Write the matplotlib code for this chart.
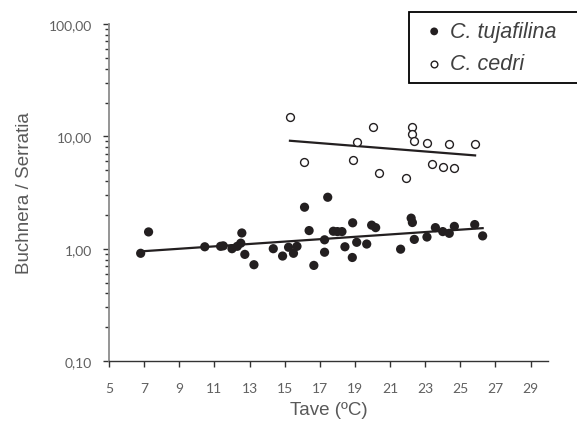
import numpy as np
import matplotlib.pyplot as plt
from matplotlib.ticker import FuncFormatter, LogLocator, NullFormatter

# C. tujafilina (filled)
tuja_t = [6.8, 7.25, 10.45, 11.35, 11.5, 12.0, 12.3, 12.5, 12.56, 12.73,
          13.25, 14.35, 14.88, 15.22, 15.5, 15.7, 16.13, 16.39, 16.66, 17.27,
          17.27, 17.45, 17.77, 18.0, 18.26, 18.43, 18.87, 18.85, 19.1, 19.67,
          19.95, 20.18, 21.6, 22.2, 22.27, 22.38, 23.1, 23.58, 24.0, 24.37,
          24.66, 25.82, 26.27]
tuja_r = [0.91, 1.41, 1.04, 1.05, 1.06, 1.00, 1.05, 1.12, 1.38, 0.89,
          0.72, 1.00, 0.86, 1.03, 0.91, 1.05, 2.34, 1.45, 0.71, 1.20,
          0.93, 2.87, 1.43, 1.42, 1.42, 1.04, 1.70, 0.835, 1.14, 1.10,
          1.62, 1.54, 0.99, 1.87, 1.71, 1.21, 1.27, 1.54, 1.42, 1.37,
          1.58, 1.64, 1.30]

# C. cedri (open)
cedri_t = [15.3, 16.11, 18.87, 19.1, 20.05, 20.38, 21.9, 22.27, 22.23, 22.38,
           23.09, 23.4, 24.01, 24.37, 24.66, 25.84]
cedri_r = [15.0, 5.96, 6.13, 8.92, 12.1, 4.69, 4.24, 12.1, 10.6, 9.03,
           8.67, 5.73, 5.38, 8.56, 5.2, 8.6]

xticks = list(range(5, 30, 2))

plt.rcParams['font.family'] = ['Liberation Sans', 'DejaVu Sans']

fig = plt.figure(figsize=(5.77, 4.31), dpi=100)
ax = fig.add_axes([0.189, 0.160, 0.761, 0.782])

# exponential trendlines (fit on log scale)
for t, r in [(tuja_t, tuja_r), (cedri_t, cedri_r)]:
    t = np.array(t)
    k, b = np.polyfit(t, np.log10(r), 1)
    xs = np.array([t.min(), t.max()])
    ax.plot(xs, 10 ** (k * xs + b), color='#231f20', lw=1.6, zorder=2)

ax.scatter(tuja_t, tuja_r, s=44, color='#231f20', edgecolor='none',
           zorder=3, label='C. tujafilina')
ax.scatter(cedri_t, cedri_r, s=32, facecolor='white', edgecolor='#231f20',
           linewidth=1.0, zorder=3, label='C. cedri')

ax.set_yscale('log')
ax.set_ylim(0.1, 100)
ax.set_xlim(5, 30)
ax.set_xticks(xticks)
ax.yaxis.set_major_formatter(FuncFormatter(lambda v, p: f'{v:.2f}'.replace('.', ',')))
ax.yaxis.set_minor_locator(LogLocator(base=10, subs=np.arange(2, 10)))
ax.yaxis.set_minor_formatter(NullFormatter())

for s in ['top', 'right']:
    ax.spines[s].set_visible(False)
ax.spines['left'].set_color('#8c8c8c')
ax.spines['left'].set_linewidth(1.3)
ax.spines['bottom'].set_color('#333333')
ax.spines['bottom'].set_linewidth(1.0)

ax.tick_params(axis='y', which='major', length=4.5, width=1, color='#333333',
               labelsize=10, labelcolor='#606060', pad=8)
ax.tick_params(axis='y', which='minor', length=3, width=1, color='#333333')
ax.tick_params(axis='x', length=4, width=1, color='#333333',
               labelsize=10, labelcolor='#606060', pad=11)
for lab in ax.get_xticklabels() + ax.get_yticklabels():
    lab.set_family(['Lato', 'DejaVu Sans'])

ax.set_xlabel('Tave (ºC)', fontsize=13.5, color='#595959', labelpad=5)
ax.set_ylabel('Buchnera / Serratia', fontsize=13.5, color='#595959', labelpad=11)

leg = ax.legend(loc='upper left',
                bbox_to_anchor=(409 / 577, 1 - 13 / 431, 0.32, 0.0),
                mode='expand',
                bbox_transform=fig.transFigure, fancybox=False, framealpha=1,
                edgecolor='#000000', borderaxespad=0, handlelength=1.5,
                handletextpad=0.0, borderpad=0.42, labelspacing=0.52,
                markerscale=0.85, prop={'style': 'italic', 'size': 15.5})
leg.get_frame().set_linewidth(1.3)
for txt in leg.get_texts():
    txt.set_color('#404040')

fig.savefig('out.png', dpi=100)
